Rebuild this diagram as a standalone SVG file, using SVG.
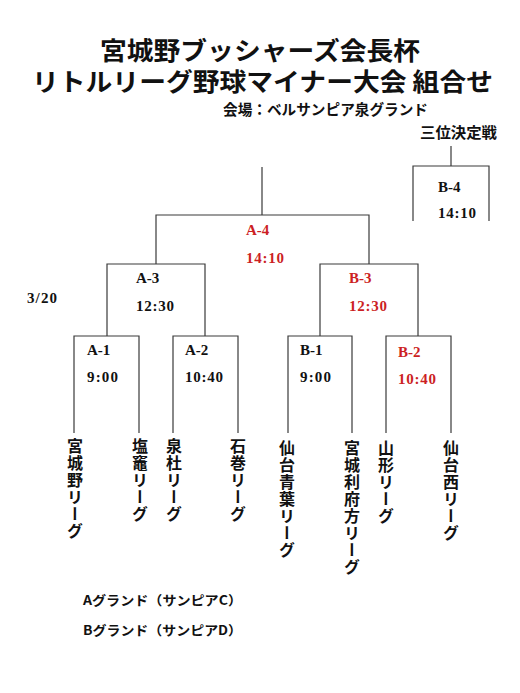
<svg xmlns="http://www.w3.org/2000/svg" width="520" height="693" viewBox="0 0 520 693">
<style>
.ln{fill:none;stroke:#3a3a3a;stroke-width:1.2}
.jp{font-family:"Noto Sans CJK JP","Noto Sans CJK SC",sans-serif;font-weight:bold;fill:#111}
.lb{font-family:"Liberation Serif",serif;font-weight:bold;font-size:15px;fill:#111}
.red{fill:#cc1f24}
.vt{font-family:"Noto Sans CJK JP","Noto Sans CJK SC",sans-serif;font-weight:bold;font-size:16px;letter-spacing:1px;fill:#111;writing-mode:vertical-rl}
</style>
<rect width="520" height="693" fill="#fff"/>
<g id="title">
<text class="jp" x="100" y="60" font-size="25" textLength="320" lengthAdjust="spacingAndGlyphs">宮城野ブッシャーズ会長杯</text>
<text class="jp" x="32" y="91" font-size="25" textLength="461" lengthAdjust="spacingAndGlyphs">リトルリーグ野球マイナー大会 組合せ</text>
<text class="jp" x="223" y="115" font-size="14.5" textLength="205" lengthAdjust="spacingAndGlyphs">会場：ベルサンピア泉グランド</text>
<text class="jp" x="420" y="138" font-size="15" textLength="77" lengthAdjust="spacingAndGlyphs">三位決定戦</text>
</g>
<g id="connectors">
<path class="ln" d="M262,167 V215 M156,264 V215 H369 V264"/>
<path class="ln" d="M156,264 H107 V336 M156,264 H205 V336"/>
<path class="ln" d="M369,264 H320 V336 M369,264 H418 V336"/>
<path class="ln" d="M74,433 V336 H139 V433"/>
<path class="ln" d="M173,433 V336 H238 V433"/>
<path class="ln" d="M288,433 V336 H352 V433"/>
<path class="ln" d="M386,433 V336 H451 V433"/>
<path class="ln" d="M451,146 V166 M413,221 V166 H489 V221"/>
</g>
<g id="date"><text class="lb" x="27" y="303" textLength="30">3/20</text></g>
<g id="A-4"><text class="lb red" x="246" y="235">A-4</text><text class="lb red" x="246" y="263" textLength="38">14:10</text></g>
<g id="B-4"><text class="lb" x="438" y="192">B-4</text><text class="lb" x="438" y="218" textLength="38">14:10</text></g>
<g id="A-3"><text class="lb" x="136" y="283">A-3</text><text class="lb" x="136" y="311" textLength="38">12:30</text></g>
<g id="B-3"><text class="lb red" x="349" y="283">B-3</text><text class="lb red" x="349" y="311" textLength="38">12:30</text></g>
<g id="A-1"><text class="lb" x="87" y="355">A-1</text><text class="lb" x="87" y="382" textLength="31">9:00</text></g>
<g id="A-2"><text class="lb" x="185" y="355">A-2</text><text class="lb" x="185" y="382" textLength="38">10:40</text></g>
<g id="B-1"><text class="lb" x="300" y="355">B-1</text><text class="lb" x="300" y="382" textLength="31">9:00</text></g>
<g id="B-2"><text class="lb red" x="398" y="357">B-2</text><text class="lb red" x="398" y="384" textLength="38">10:40</text></g>
<g id="team1"><text class="vt" x="75" y="438">宮城野リーグ</text></g>
<g id="team2"><text class="vt" x="140" y="438">塩竈リーグ</text></g>
<g id="team3"><text class="vt" x="174" y="438">泉杜リーグ</text></g>
<g id="team4"><text class="vt" x="238" y="438">石巻リーグ</text></g>
<g id="team5"><text class="vt" x="287" y="440">仙台青葉リーグ</text></g>
<g id="team6"><text class="vt" x="352" y="440">宮城利府方リーグ</text></g>
<g id="team7"><text class="vt red" x="386" y="440">山形リーグ</text></g>
<g id="team8"><text class="vt" x="451" y="440">仙台西リーグ</text></g>
<g id="legend">
<text class="jp" x="83" y="605" font-size="13" textLength="159" lengthAdjust="spacingAndGlyphs">Aグランド（サンピアC）</text>
<text class="jp" x="83" y="635" font-size="13" textLength="159" lengthAdjust="spacingAndGlyphs">Bグランド（サンピアD）</text>
</g>
</svg>
